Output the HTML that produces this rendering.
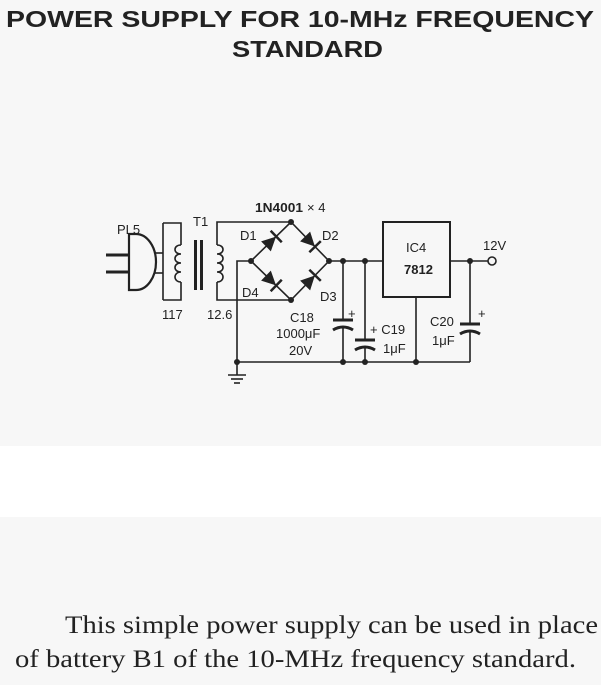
<!DOCTYPE html>
<html><head><style>
html,body{margin:0;padding:0;background:#f7f7f7;}
svg{display:block}
</style></head><body>
<svg width="601" height="685" viewBox="0 0 601 685" xmlns="http://www.w3.org/2000/svg">
<rect x="0" y="0" width="601" height="685" fill="#f7f7f7"/>
<rect x="0" y="446" width="601" height="71" fill="#ffffff"/>
<g font-family="Liberation Sans, sans-serif" font-weight="bold" fill="#222">
<text x="6" y="27" font-size="23" textLength="588" lengthAdjust="spacingAndGlyphs">POWER SUPPLY FOR 10-MHz FREQUENCY</text>
<text x="232" y="57" font-size="23" textLength="151" lengthAdjust="spacingAndGlyphs">STANDARD</text>
</g>
<g stroke="#222" stroke-width="1.6" fill="none">
<line x1="106" y1="255" x2="129" y2="255" stroke-width="3"/>
<line x1="106" y1="272" x2="129" y2="272" stroke-width="3"/>
<path d="M129 234 L136 234 A20 28 0 0 1 136 290 L129 290 Z" stroke-width="2.2"/>
<line x1="155" y1="253" x2="163" y2="253"/>
<line x1="155" y1="273" x2="163" y2="273"/>
<path d="M163 223 L163 300 M163 223 L181 223 L181 245 M163 300 L181 300 L181 282"/>
<path d="M181 245 c-8 0 -8 9 0 9 c-8 0 -8 9 0 9 c-8 0 -8 9 0 9 c-8 0 -8 10 0 10"/>
<path d="M217 245 c8 0 8 9 0 9 c8 0 8 9 0 9 c8 0 8 9 0 9 c8 0 8 10 0 10"/>
<path d="M217 245 L217 222 L291 222 M217 282 L217 300 L291 300"/>
<path d="M251 261 L291 222 L329 261 L291 300 Z"/>
<path d="M251 261 L237 261 L237 362 L470 362"/>
<path d="M329 261 L383 261"/>
<rect x="383" y="222" width="67" height="75" stroke-width="2"/>
<path d="M450 261 L488 261"/>
<circle cx="492" cy="261" r="4"/>
<path d="M416 297 L416 362"/>
<path d="M343 261 L343 320 M343 328 L343 362"/>
<path d="M365 261 L365 340 M365 348 L365 362"/>
<path d="M470 261 L470 324 M470 332 L470 362"/>
<path d="M237 362 L237 375"/>
<line x1="228" y1="375" x2="246" y2="375"/>
<line x1="231" y1="379" x2="243" y2="379"/>
<line x1="234" y1="383" x2="240" y2="383"/>
</g>
<rect x="194" y="240" width="3" height="50" fill="#222"/>
<rect x="200" y="240" width="3" height="50" fill="#222"/>
<g stroke="#222" stroke-width="3" fill="none">
<line x1="333" y1="320" x2="353" y2="320"/>
<path d="M333 330 Q343 324 353 330"/>
<line x1="355" y1="340" x2="375" y2="340"/>
<path d="M355 350 Q365 344 375 350"/>
<line x1="460" y1="324" x2="480" y2="324"/>
<path d="M460 334 Q470 328 480 334"/>
</g>
<g transform="translate(271,241.5) rotate(-44)"><polygon points="-7,-7 -7,7 7,0" fill="#222"/><rect x="6" y="-8" width="2.5" height="16" fill="#222"/></g>
<g transform="translate(310,241.5) rotate(45.7)"><polygon points="-7,-7 -7,7 7,0" fill="#222"/><rect x="6" y="-8" width="2.5" height="16" fill="#222"/></g>
<g transform="translate(271,280.5) rotate(44)"><polygon points="-7,-7 -7,7 7,0" fill="#222"/><rect x="6" y="-8" width="2.5" height="16" fill="#222"/></g>
<g transform="translate(310,280.5) rotate(-45.7)"><polygon points="-7,-7 -7,7 7,0" fill="#222"/><rect x="6" y="-8" width="2.5" height="16" fill="#222"/></g>
<g fill="#222">
<circle cx="291" cy="222" r="3"/><circle cx="251" cy="261" r="3"/><circle cx="329" cy="261" r="3"/><circle cx="291" cy="300" r="3"/>
<circle cx="343" cy="261" r="3"/><circle cx="365" cy="261" r="3"/><circle cx="470" cy="261" r="3"/>
<circle cx="237" cy="362" r="3"/><circle cx="343" cy="362" r="3"/><circle cx="365" cy="362" r="3"/><circle cx="416" cy="362" r="3"/>
</g>
<g font-family="Liberation Sans, sans-serif" font-size="13" fill="#222">
<text x="255" y="212" font-weight="bold" textLength="48" lengthAdjust="spacingAndGlyphs">1N4001</text><text x="307" y="212">× 4</text>
<text x="117" y="234">PL5</text>
<text x="193" y="226">T1</text>
<text x="240" y="240">D1</text>
<text x="322" y="240">D2</text>
<text x="242" y="297">D4</text>
<text x="320" y="301">D3</text>
<text x="162" y="319">117</text>
<text x="207" y="319">12.6</text>
<text x="290" y="322">C18</text>
<text x="276" y="338">1000μF</text>
<text x="289" y="355">20V</text>
<text x="348" y="318">+</text>
<text x="370" y="334">+ C19</text>
<text x="383" y="353">1μF</text>
<text x="430" y="326">C20</text>
<text x="432" y="345">1μF</text>
<text x="478" y="318">+</text>
<text x="406" y="252">IC4</text>
<text x="404" y="274" font-weight="bold">7812</text>
<text x="483" y="250">12V</text>
</g>
<g font-family="Liberation Serif, serif" font-size="25" fill="#222">
<text x="65" y="633" textLength="533" lengthAdjust="spacingAndGlyphs">This simple power supply can be used in place</text>
<text x="15" y="667" textLength="561" lengthAdjust="spacingAndGlyphs">of battery B1 of the 10-MHz frequency standard.</text>
</g>
</svg>
</body></html>
